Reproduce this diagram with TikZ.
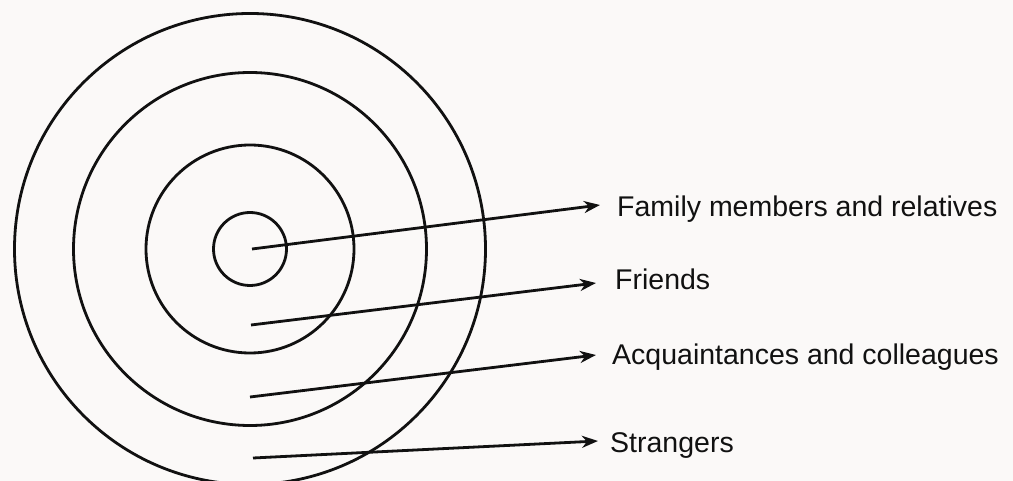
\documentclass[tikz,border=0pt]{standalone}
\usepackage{fontspec}
\setmainfont{Liberation Sans}
\usetikzlibrary{arrows.meta}
\definecolor{paper}{HTML}{FBF9F8}
\definecolor{ink}{HTML}{111111}
\tikzset{
  ring/.style={draw=ink, line width=2.8pt},
  pointer/.style={draw=ink, line width=2.8pt, -{Stealth[length=16pt,width=12pt,inset=5pt]}},
  lbl/.style={anchor=base west, inner sep=0pt, font=\fontsize{28.5pt}{32pt}\selectfont, text=ink}
}
\begin{document}
\begin{tikzpicture}[x=1pt,y=-1pt]
\fill[paper] (0,0) rectangle (1013,481);
\useasboundingbox (0,0) rectangle (1013,481);
\coordinate (c) at (250,249);
\draw[ring] (c) circle[radius=235.5];
\draw[ring] (c) circle[radius=176.5];
\draw[ring] (c) circle[radius=104];
\draw[ring] (c) circle[radius=36.5];
\node[lbl] (fam) at (617,217) {Family members and relatives};
\node[lbl] (fri) at (615,290) {Friends};
\node[lbl] (acq) at (612,365) {Acquaintances and colleagues};
\node[lbl] (str) at (610,452) {Strangers};
\coordinate (s1) at (252,249);
\coordinate (s2) at (251,325);
\coordinate (s3) at (250,397);
\coordinate (s4) at (253,458);
\coordinate (t1) at (600,205);
\coordinate (t2) at (596,283);
\coordinate (t3) at (596,355);
\coordinate (t4) at (598,441);
\draw[pointer] (s1) -- (t1);
\draw[pointer] (s2) -- (t2);
\draw[pointer] (s3) -- (t3);
\draw[pointer] (s4) -- (t4);
\end{tikzpicture}
\end{document}
